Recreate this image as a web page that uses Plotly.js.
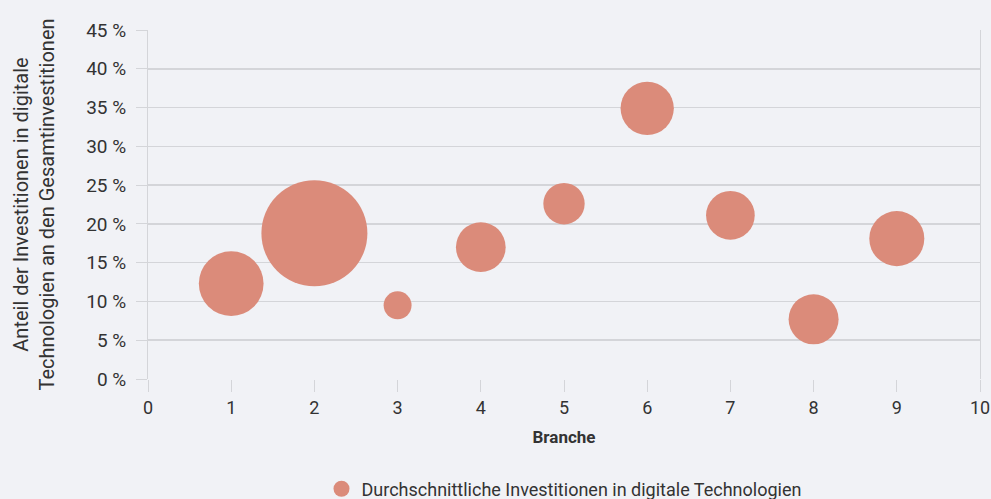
<!DOCTYPE html>
<html>
<head>
<meta charset="utf-8">
<script src="https://cdn.plot.ly/plotly-3.0.1.min.js"></script>
<style>html,body{margin:0;padding:0;background:#f1f2f6;}#chart{width:991px;height:499px;}</style>
</head>
<body>
<div id="chart"></div>
<script>
// Branche (industry index)
const branche = [1, 2, 3, 4, 5, 6, 7, 8, 9];
// Anteil der Investitionen in digitale Technologien an den Gesamtinvestitionen (%)
const anteil = [12.3, 18.8, 9.5, 17.0, 22.6, 34.9, 21.1, 7.7, 18.1];
// Durchschnittliche Investitionen in digitale Technologien (relative, bubble area)
const investitionen = [41.9, 112.4, 7.8, 24.7, 17.1, 28.4, 23.7, 25.0, 30.3];
const seriesName = 'Durchschnittliche Investitionen in digitale Technologien';
const yTickVals = [0, 5, 10, 15, 20, 25, 30, 35, 40, 45];
const yTickText = ['0 %', '5 %', '10 %', '15 %', '20 %', '25 %', '30 %', '35 %', '40 %', '45 %'];
const xTickVals = [0, 1, 2, 3, 4, 5, 6, 7, 8, 9, 10];

const FONT = 'Roboto, "Open Sans", sans-serif';
const maxDiameter = 106;
const sizeref = 2 * Math.max(...investitionen) / (maxDiameter * maxDiameter);

const trace = {
  type: 'scatter',
  mode: 'markers',
  x: branche,
  y: anteil,
  name: seriesName,
  showlegend: true,
  marker: {
    size: investitionen,
    sizemode: 'area',
    sizeref: sizeref,
    color: '#db8b7a',
    line: {width: 0},
    opacity: 1
  },
  cliponaxis: false,
  hoverinfo: 'x+y'
};

const layout = {
  width: 991,
  height: 499,
  paper_bgcolor: '#f1f2f6',
  plot_bgcolor: '#f1f2f6',
  font: {family: FONT, color: '#333333', size: 18},
  margin: {l: 148, r: 11, t: 30, b: 120},
  showlegend: true,
  legend: {
    orientation: 'h',
    x: 0.5, xanchor: 'center', xref: 'paper',
    y: 0.02, yanchor: 'middle', yref: 'container',
    font: {family: FONT, size: 18, color: '#333333'},
    bgcolor: 'rgba(0,0,0,0)'
  },
  xaxis: {
    range: [0, 10],
    tickvals: xTickVals,
    ticktext: xTickVals.map(String),
    showgrid: false,
    zeroline: false,
    showline: false,
    ticks: 'outside',
    ticklen: 12,
    tickcolor: '#d4d5d9',
    tickwidth: 1,
    tickfont: {family: FONT, size: 18, color: '#333333'},
    title: {text: '<b>Branche</b>', font: {family: FONT, size: 17, color: '#333333'}, standoff: 14},
    automargin: false
  },
  yaxis: {
    range: [0, 45],
    tickvals: yTickVals,
    ticktext: yTickText,
    showgrid: true,
    gridcolor: '#d4d5d9',
    gridwidth: 1.5,
    zeroline: false,
    showline: true,
    linecolor: '#d4d5d9',
    linewidth: 1,
    mirror: true,
    ticks: 'outside',
    ticklen: 11,
    tickcolor: '#d4d5d9',
    tickfont: {family: FONT, size: 19, color: '#333333'},
    ticklabelstandoff: 6,
    title: {text: 'Anteil der Investitionen in digitale<br>Technologien an den Gesamtinvestitionen', font: {family: FONT, size: 20, color: '#333333'}, standoff: 26},
    automargin: false
  }
};

Plotly.newPlot('chart', [trace], layout, {displayModeBar: false, staticPlot: true});
</script>
</body>
</html>
